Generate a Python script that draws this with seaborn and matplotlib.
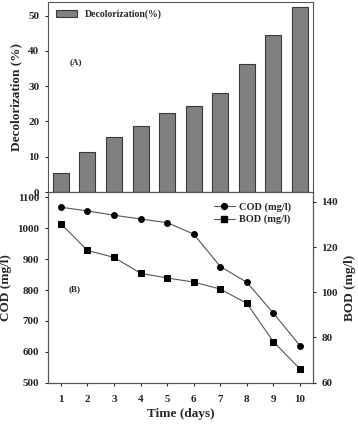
import numpy as np
import pandas as pd
import matplotlib
matplotlib.use("Agg")
import matplotlib.pyplot as plt
import seaborn as sns
from matplotlib.lines import Line2D

sns.set_style("ticks")
plt.rcParams['font.family'] = ['Liberation Serif', 'DejaVu Serif']
plt.rcParams['font.weight'] = 'bold'

days = [1, 2, 3, 4, 5, 6, 7, 8, 9, 10]
decolorization = [5.4, 11.4, 15.6, 18.6, 22.3, 24.4, 28.2, 36.2, 44.5, 52.5]
cod = [1068, 1056, 1042, 1030, 1018, 981, 876, 825, 725, 620]
bod = [130.3, 118.5, 115.4, 108.4, 106.3, 104.5, 101.4, 95.1, 78.1, 66.1]

fig = plt.figure(figsize=(3.58, 4.24), dpi=100)
ax1 = fig.add_axes([0.133, 0.547, 0.742, 0.448])
ax2 = fig.add_axes([0.133, 0.0974, 0.742, 0.4496])

tick_kw = dict(labelsize=8, width=0.8, length=2.5, direction='out')

# (A) decolorization bars
sns.barplot(x=days, y=decolorization, native_scale=True, width=0.6,
            color='#808080', saturation=1, edgecolor='#3a3a3a', linewidth=0.8,
            ax=ax1, label='Decolorization(%)')
ax1.set_xlim(0.5, 10.5)
ax1.set_ylim(0, 53.8)
ax1.set_yticks([0, 10, 20, 30, 40, 50])
ax1.set_xticks([])
ax1.set_xlabel('')
ax1.set_ylabel('Decolorization (%)', fontsize=9.5, fontweight='bold')
ax1.tick_params(axis='y', **tick_kw)
for lab in ax1.get_yticklabels():
    lab.set_fontweight('bold')
ax1.text(1.55, 36.7, '(A)', fontsize=6.5, fontweight='bold', ha='center', va='center')
ax1.legend(loc='upper left', bbox_to_anchor=(0.01, 0.99), frameon=False,
           handlelength=2.2, handleheight=0.7, borderaxespad=0.2,
           prop={'weight': 'bold', 'size': 7})
for sp in ax1.spines.values():
    sp.set_linewidth(0.8)
    sp.set_color('#555555')

# (B) COD / BOD
line_kw = dict(color='#555555', markerfacecolor='black', markeredgecolor='black',
               linewidth=0.8)
sns.lineplot(x=days, y=cod, marker='o', markersize=4.2, ax=ax2, **line_kw)
ax3 = ax2.twinx()
sns.lineplot(x=days, y=bod, marker='s', markersize=3.8, ax=ax3, **line_kw)
ax2.set_xlim(0.5, 10.5)
ax2.set_ylim(500, 1117)
ax2.set_yticks([500, 600, 700, 800, 900, 1000, 1100])
ax3.set_ylim(60, 144.3)
ax3.set_yticks([60, 80, 100, 120, 140])
ax2.set_xticks(days)
ax2.set_xlabel('Time (days)', fontsize=9.5, fontweight='bold', labelpad=3)
ax2.set_ylabel('COD (mg/l)', fontsize=9.5, fontweight='bold')
ax3.set_ylabel('BOD (mg/l)', fontsize=9.5, fontweight='bold')
ax2.tick_params(axis='both', **tick_kw)
ax2.tick_params(axis='x', pad=6)
ax3.tick_params(axis='y', **tick_kw)
for lab in ax2.get_xticklabels() + ax2.get_yticklabels() + ax3.get_yticklabels():
    lab.set_fontweight('bold')
ax2.text(1.5, 803, '(B)', fontsize=6.5, fontweight='bold', ha='center', va='center')
for ax in (ax2, ax3):
    for sp in ax.spines.values():
        sp.set_linewidth(0.8)
        sp.set_color('#555555')

handles = [
    Line2D([], [], marker='o', markersize=4.2, **line_kw),
    Line2D([], [], marker='s', markersize=3.8, **line_kw),
]
ax2.legend(handles, ['COD (mg/l)', 'BOD (mg/l)'], loc='upper right',
           bbox_to_anchor=(0.94, 0.98), frameon=False, handlelength=2.0,
           handletextpad=0.4, borderaxespad=0.2, labelspacing=0.3,
           prop={'weight': 'bold', 'size': 7.5})

fig.savefig('out.png', dpi=100)
